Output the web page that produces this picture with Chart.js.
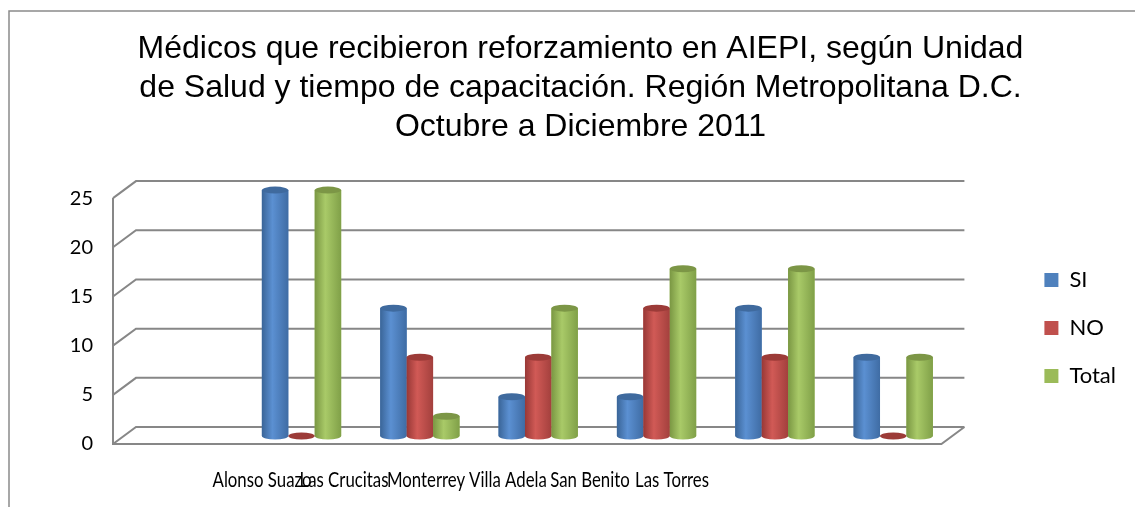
<!DOCTYPE html>
<html>
<head>
<meta charset="utf-8">
<script src="https://cdn.jsdelivr.net/npm/chart.js@4.4.0/dist/chart.umd.min.js"></script>
<style>
  html, body { margin: 0; padding: 0; background: #fff; }
  canvas { display: block; }
</style>
</head>
<body>
<canvas id="chart" width="1135" height="507"></canvas>
<script>
// Data
const categories = ['', 'Alonso Suazo', 'Las Crucitas', 'Monterrey', 'Villa Adela', 'San Benito', 'Las Torres'];
const siValues = [null, 25, 13, 4, 4, 13, 8];
const noValues = [null, 0, 8, 8, 13, 8, 0];
const totalValues = [null, 25, 2, 13, 17, 17, 8];
const yTicks = [0, 5, 10, 15, 20, 25];
const titleLines = [
    'Médicos que recibieron reforzamiento en AIEPI, según Unidad',
    'de Salud y tiempo de capacitación. Región Metropolitana D.C.',
    'Octubre a Diciembre 2011'
];

// 3D look: front edge and back wall offsets from the bar plane
const FRONT = { dx: -11, dy: 8 };
const BACK = { dx: 12, dy: -9 };
const GRID_COLOR = '#878787';

// cylinder shades per series
const shades = [
    { edge: '#3a6598', light: '#5b90d2', edge2: '#3f6ca4', cap: '#3f6a9e' },
    { edge: '#983836', light: '#d15a56', edge2: '#a3403d', cap: '#9c3b38' },
    { edge: '#7a9743', light: '#a9ca68', edge2: '#80a048', cap: '#7c9646' }
];

const framePlugin = {
    id: 'frame',
    beforeDraw(chart) {
        const ctx = chart.ctx;
        ctx.save();
        ctx.fillStyle = '#fff';
        ctx.fillRect(0, 0, chart.width, chart.height);
        ctx.strokeStyle = '#8a8a8a';
        ctx.lineWidth = 1.5;
        ctx.beginPath();
        ctx.moveTo(9, chart.height);
        ctx.lineTo(9, 11);
        ctx.lineTo(chart.width, 11);
        ctx.stroke();
        ctx.restore();
    }
};

// legend sits lower and closer to the plot than Chart.js puts it
const LEGEND_GAP = 66;
const LEGEND_TOP = 53;
const legendPlacePlugin = {
    id: 'legendPlace',
    afterLayout(chart) {
        const lg = chart.legend, a = chart.chartArea;
        if (!lg) return;
        const dx = a.right + LEGEND_GAP - lg.left;
        const dy = a.top + LEGEND_TOP - lg.top;
        lg.left += dx; lg.right += dx;
        lg.top += dy; lg.bottom += dy;
    }
};

const wallPlugin = {
    id: 'wall3d',
    beforeDatasetsDraw(chart) {
        const { ctx, chartArea: a, scales: { y } } = chart;
        ctx.save();
        ctx.strokeStyle = GRID_COLOR;
        ctx.lineWidth = 2;
        yTicks.forEach(v => {
            const py = y.getPixelForValue(v);
            ctx.beginPath();
            ctx.moveTo(a.left + FRONT.dx, py + FRONT.dy);
            ctx.lineTo(a.left + BACK.dx, py + BACK.dy);
            ctx.lineTo(a.right + BACK.dx, py + BACK.dy);
            ctx.stroke();
        });
        const top = y.getPixelForValue(yTicks[yTicks.length - 1]);
        const base = y.getPixelForValue(0);
        ctx.beginPath();
        ctx.moveTo(a.left + FRONT.dx, top + FRONT.dy);
        ctx.lineTo(a.left + FRONT.dx, base + FRONT.dy);
        ctx.lineTo(a.right + FRONT.dx, base + FRONT.dy);
        ctx.lineTo(a.right + BACK.dx, base + BACK.dy);
        ctx.stroke();
        ctx.restore();
    }
};

const cylinderPlugin = {
    id: 'cylinders',
    afterDatasetsDraw(chart) {
        const ctx = chart.ctx;
        ctx.save();
        chart.data.datasets.forEach((ds, di) => {
            const meta = chart.getDatasetMeta(di);
            if (meta.hidden) return;
            const shade = shades[di];
            meta.data.forEach((bar, i) => {
                if (ds.data[i] == null) return;
                const { x, y, base, width } = bar.getProps(['x', 'y', 'base', 'width'], true);
                const l = x - width / 2, r = x + width / 2, ry = 3.5;
                if (base - y > 0.5) {
                    const g = ctx.createLinearGradient(l, 0, r, 0);
                    g.addColorStop(0, shade.edge);
                    g.addColorStop(0.4, shade.light);
                    g.addColorStop(1, shade.edge2);
                    ctx.fillStyle = g;
                    ctx.beginPath();
                    ctx.moveTo(l, y);
                    ctx.lineTo(l, base);
                    ctx.ellipse(x, base, width / 2, ry, 0, Math.PI, 0, true);
                    ctx.lineTo(r, y);
                    ctx.closePath();
                    ctx.fill();
                }
                ctx.fillStyle = shade.cap;
                ctx.beginPath();
                ctx.ellipse(x, y, width / 2, ry, 0, 0, Math.PI * 2);
                ctx.fill();
            });
        });
        ctx.restore();
    }
};

// category labels sit packed together under the floor, as in the original
// (the original text is horizontally squeezed)
const LABEL_START = 138;
const LABEL_STEP = 82;
const LABEL_SQUEEZE = 0.8;
const xLabelPlugin = {
    id: 'xLabels',
    afterDraw(chart) {
        const { ctx, chartArea: a } = chart;
        ctx.save();
        ctx.font = '21px Lato, sans-serif';
        ctx.fillStyle = '#000';
        ctx.textAlign = 'center';
        ctx.textBaseline = 'middle';
        categories.forEach((name, i) => {
            if (!name) return;
            const cx = a.left + LABEL_START + LABEL_STEP * (i - 1);
            ctx.save();
            ctx.translate(cx, a.bottom + 44);
            ctx.scale(LABEL_SQUEEZE, 1);
            ctx.fillText(name, 0, 0);
            ctx.restore();
        });
        ctx.restore();
    }
};

const barDefaults = { borderWidth: 0, categoryPercentage: 0.67, barPercentage: 1 };

new Chart(document.getElementById('chart'), {
    type: 'bar',
    data: {
        labels: categories,
        datasets: [
            { label: 'SI', data: siValues, backgroundColor: '#4f81bd', ...barDefaults },
            { label: 'NO', data: noValues, backgroundColor: '#c0504d', ...barDefaults },
            { label: 'Total', data: totalValues, backgroundColor: '#9bbb59', ...barDefaults }
        ]
    },
    options: {
        responsive: false,
        animation: false,
        layout: { padding: { left: 26, top: 0, right: 0, bottom: 71 } },
        plugins: {
            title: {
                display: true,
                text: titleLines,
                color: '#000',
                font: { family: '"Liberation Sans", Arial, sans-serif', size: 32, weight: 'normal', lineHeight: 1.22 },
                padding: { top: 30, bottom: 43 }
            },
            legend: {
                position: 'right',
                align: 'start',
                labels: {
                    boxWidth: 14,
                    boxHeight: 14,
                    padding: 26,
                    color: '#000',
                    font: { family: 'Lato', size: 22 }
                }
            },
            tooltip: { enabled: false }
        },
        scales: {
            x: { display: false },
            y: {
                min: 0,
                max: 25,
                grid: { display: false, drawTicks: false },
                border: { display: false },
                afterBuildTicks(s) { s.ticks = yTicks.map(v => ({ value: v })); },
                ticks: { labelOffset: 8, padding: 31, color: '#000', font: { family: 'Lato', size: 20 } },
                afterFit(s) { s.width = 98; }
            },
            y2: {
                type: 'linear',
                position: 'right',
                grid: { display: false, drawTicks: false },
                border: { display: false },
                ticks: { display: false },
                afterFit(s) { s.width = 75; }
            }
        }
    },
    plugins: [framePlugin, legendPlacePlugin, wallPlugin, cylinderPlugin, xLabelPlugin]
});
</script>
</body>
</html>
